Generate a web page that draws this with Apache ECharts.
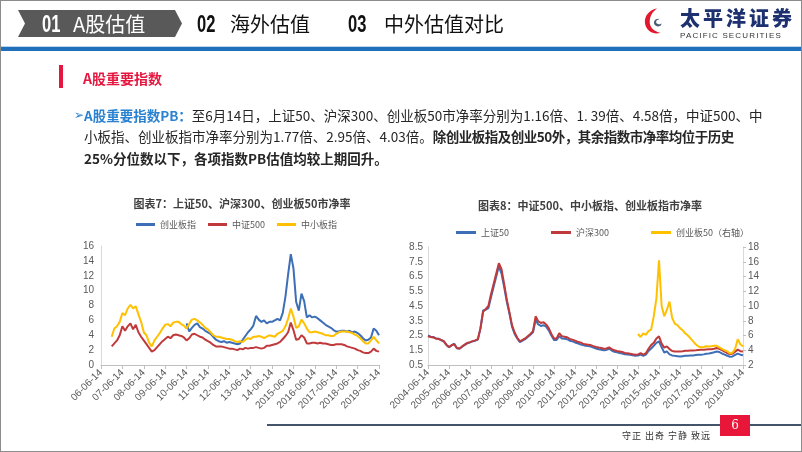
<!DOCTYPE html>
<html>
<head>
<meta charset="utf-8">
<script src="https://cdn.jsdelivr.net/npm/echarts@6/dist/echarts.min.js"></script>
<style>
  html, body { margin: 0; padding: 0; background: #fff; }
  #slide { position: relative; width: 802px; height: 452px; overflow: hidden; background: #fff;
    font-family: "Noto Sans CJK SC", sans-serif; }
  #main { position: absolute; left: 0; top: 0; width: 802px; height: 452px; }
  .abs { position: absolute; white-space: nowrap; }
  #frame { position: absolute; left: 0; top: 0; width: 802px; height: 452px; box-sizing: border-box;
    border: 1px solid #8c8c8c; pointer-events: none; }
  .tab { position: absolute; left: 18px; top: 10px; width: 164px; height: 27px; background: #595959;
    clip-path: polygon(0 0, 157px 0, 164px 13.5px, 157px 27px, 0 27px, 7px 13.5px); }
  .num { font-family: "Liberation Sans", sans-serif; font-weight: bold;
    font-size: 23px; line-height: 24px; top: 12px; transform: scaleX(0.72); transform-origin: 0 50%; }
  .sec { font-size: 20px; line-height: 24px; top: 12px; }
  .para { left: 84px; font-size: 13.5px; line-height: 20px; color: #262626; }
  .para b { font-weight: bold; }
</style>
</head>
<body>
<div id="slide">
  <div id="main"></div>

  <!-- header -->
  <div class="tab"></div>
  <span class="abs num" style="left:42px;color:#fff">01</span>
  <span class="abs sec" style="left:73px;color:#fff">A股估值</span>
  <span class="abs num" style="left:197px;color:#111">02</span>
  <span class="abs sec" style="left:230px;color:#111">海外估值</span>
  <span class="abs num" style="left:348px;color:#111">03</span>
  <span class="abs sec" style="left:384px;color:#111">中外估值对比</span>

  <svg class="abs" style="left:642px;top:6px" width="24" height="30" viewBox="0 0 22 28">
    <path d="M14 2 C5 4 1 11 3 18 C5 24 11 27 17 25 C11 24 7 20 7 15 C7 9 10 5 14 2 Z" fill="#e3172d"/>
    <path d="M15 12 C11 12 10 16 12 18 C14 20 18 19 18 16 C16 18 13 17 13 15 C13 13 15 12 17 13 Z" fill="#4a5a78"/>
  </svg>
  <span class="abs" style="left:680px;top:6px;font-size:20px;line-height:24px;font-weight:900;color:#1d3170;letter-spacing:3px">太平洋证券</span>
  <span class="abs" style="left:680px;top:31px;font-family:'Liberation Sans',sans-serif;font-size:8px;line-height:10px;color:#333;letter-spacing:1.15px">PACIFIC SECURITIES</span>

  <div class="abs" style="left:0;top:46px;width:802px;height:1px;background:#bcd4ec"></div>
  <div class="abs" style="left:0;top:47px;width:802px;height:4px;background:#1f6fba"></div>

  <!-- section heading -->
  <div class="abs" style="left:59px;top:65px;width:4px;height:23px;background:#e5173f"></div>
  <span class="abs" style="left:83px;top:69px;font-size:14px;line-height:18px;font-weight:bold;color:#e5173f">A股重要指数</span>

  <!-- paragraph -->
  <span class="abs" style="left:74px;top:105px;font-family:'DejaVu Sans',sans-serif;font-size:12px;line-height:20px;color:#2a82d0">➢</span>
  <span class="abs para" style="top:105px"><b style="color:#2a82d0">A股重要指数PB：</b>至6月14日，上证50、沪深300、创业板50市净率分别为1.16倍、1. 39倍、4.58倍，中证500、中</span>
  <span class="abs para" style="top:126px">小板指、创业板指市净率分别为1.77倍、2.95倍、4.03倍。<b style="letter-spacing:-0.5px">除创业板指及创业50外，其余指数市净率均位于历史</b></span>
  <span class="abs para" style="top:148px"><b>25%分位数以下，各项指数PB估值均较上期回升。</b></span>

  <!-- footer -->
  <div class="abs" style="left:267px;top:424px;width:535px;height:2px;background:#44546a"></div>
  <div class="abs" style="left:720px;top:415px;width:30px;height:21px;background:#e8173a;color:#fff;font-family:'DejaVu Serif',serif;font-size:12px;line-height:21px;text-align:center">6</div>
  <span class="abs" style="left:622px;top:430px;font-size:9px;line-height:12px;color:#333;letter-spacing:1px">守正 出奇 宁静 致远</span>

  <div id="frame"></div>
</div>

<script>
// dates are decimal years counted from 06-14 of each year
var leftDates = [];
for (var i = 0; i <= 100; i++) leftDates.push(2006.5 + i / 8);
var rightDates = [];
for (var j = 0; j <= 120; j++) rightDates.push(2004 + j / 8);

// 图表7
var cybIdx = [ // 创业板指, from 2010.0
  5.6, 4.5, 5.0, 5.4, 5.6, 5.1, 4.9, 4.6, 4.4, 4.2,
  3.8, 3.4, 3.2, 3.1, 3.2, 3.0, 3.1, 3.0, 2.9, 2.8,
  2.9, 3.4, 3.9, 4.4, 4.8, 5.3, 6.6, 6.1, 5.8, 6.0,
  5.6, 5.8, 5.8, 6.0, 6.2, 6.0, 7.0, 9.2, 12.2, 14.9,
  13.0, 8.5, 7.3, 9.6, 8.6, 6.4, 6.7, 6.4, 6.5, 6.3,
  6.0, 5.7, 5.4, 5.2, 5.0, 4.7, 4.5, 4.5, 4.6, 4.6,
  4.5, 4.6, 4.4, 4.5, 4.3, 4.0, 3.6, 3.3, 3.4, 3.7,
  4.9, 4.6, 4.0
];
var zz500 = [
  2.5, 2.9, 3.3, 4.0, 5.2, 4.6, 5.2, 5.6, 4.8, 5.4,
  4.4, 3.8, 3.3, 2.8, 2.3, 1.8, 2.0, 2.4, 2.8, 3.2,
  3.5, 3.8, 3.6, 4.0, 4.1, 4.0, 3.9, 3.7, 3.3, 3.6,
  4.1, 4.2, 4.0, 3.8, 3.7, 3.4, 3.2, 3.0, 2.7, 2.5,
  2.5, 2.5, 2.4, 2.3, 2.2, 2.2, 2.1, 2.0, 2.2, 2.1,
  2.3, 2.2, 2.3, 2.3, 2.4, 2.3, 2.2, 2.3, 2.6, 2.6,
  2.7, 2.8, 2.9, 3.1, 3.5, 3.9, 4.4, 5.7, 4.7, 3.4,
  3.5, 4.0, 3.7, 2.9, 2.9, 3.0, 3.0, 2.9, 3.0, 2.9,
  2.9, 2.8, 2.7, 2.7, 2.8, 2.8, 2.8, 2.7, 2.5, 2.4,
  2.3, 2.2, 2.0, 1.9, 1.7, 1.6, 1.6, 1.8, 2.2, 1.9,
  1.8
];
var zxbIdx = [
  3.8, 4.9, 5.2, 5.8, 7.0, 6.7, 7.6, 8.1, 7.6, 7.9,
  6.8, 5.8, 4.4, 4.0, 3.0, 2.5, 3.3, 3.8, 4.3, 4.9,
  5.4, 5.5, 5.2, 5.7, 5.8, 5.8, 5.5, 5.3, 4.9, 5.5,
  6.1, 6.2, 6.0, 5.7, 5.4, 5.0, 4.8, 4.4, 4.0, 3.8,
  3.8, 3.7, 3.6, 3.5, 3.5, 3.4, 3.2, 3.1, 3.2, 3.1,
  3.4, 3.6, 3.5, 3.8, 3.8, 3.9, 3.8, 3.6, 3.8, 4.0,
  3.9, 3.8, 4.2, 4.4, 4.6, 5.2, 6.2, 7.6, 6.5, 5.0,
  5.2, 6.1, 5.6, 4.9, 4.4, 4.4, 4.5, 4.4, 4.3, 4.2,
  4.0, 4.0, 3.9, 3.9, 4.2, 4.4, 4.5, 4.5, 4.5, 4.4,
  4.3, 4.1, 3.9, 3.6, 3.2, 2.9, 2.9, 3.3, 3.8, 3.3,
  2.9
];

// 图表8
var sz50 = [
  2.5, 2.42, 2.4, 2.3, 2.28, 2.18, 2.1, 1.86, 1.7, 1.82,
  1.95, 1.63, 1.6, 1.74, 1.86, 1.98, 2.03, 2.1, 2.15, 2.22,
  3.0, 4.2, 4.25, 4.35, 5.1, 5.8, 6.5, 7.2, 6.7, 5.8,
  4.8, 4.0, 3.1, 2.6, 2.3, 2.05, 2.15, 2.25, 2.4, 2.55,
  2.72, 3.55, 3.25, 3.15, 3.2, 3.1, 2.85, 2.5, 2.2, 2.2,
  2.45, 2.3, 2.28, 2.25, 2.15, 2.1, 2.03, 1.97, 1.9, 1.85,
  1.8, 1.78, 1.75, 1.68, 1.62, 1.57, 1.54, 1.5, 1.52, 1.6,
  1.48, 1.4, 1.36, 1.32, 1.28, 1.23, 1.21, 1.2, 1.16, 1.13,
  1.14, 1.2, 1.12, 1.2, 1.45, 1.62, 1.8, 2.0, 2.1, 1.7,
  1.35, 1.42, 1.22, 1.15, 1.12, 1.1, 1.08, 1.1, 1.12, 1.13,
  1.14, 1.15, 1.17, 1.19, 1.2, 1.22, 1.26, 1.28, 1.32, 1.36,
  1.42, 1.38, 1.28, 1.2, 1.13, 1.05, 1.08, 1.18, 1.27, 1.2,
  1.16
];
var hs300 = [
  2.45, 2.4, 2.37, 2.3, 2.26, 2.2, 2.12, 1.88, 1.72, 1.85,
  1.9, 1.65, 1.62, 1.76, 1.88, 2.0, 2.05, 2.12, 2.17, 2.26,
  3.0, 4.1, 4.3, 4.5, 5.3, 6.0, 6.7, 7.4, 7.0, 6.0,
  4.95, 4.1, 3.2, 2.7, 2.35, 2.1, 2.2, 2.3, 2.45, 2.6,
  2.8, 3.8, 3.45, 3.35, 3.4, 3.25, 3.0, 2.6, 2.3, 2.3,
  2.65, 2.45, 2.42, 2.38, 2.27, 2.22, 2.15, 2.08, 2.03, 1.95,
  1.9, 1.88, 1.85, 1.78, 1.72, 1.68, 1.65, 1.6, 1.62, 1.7,
  1.58, 1.5, 1.45, 1.42, 1.38, 1.32, 1.3, 1.27, 1.23, 1.2,
  1.22, 1.3, 1.2, 1.3, 1.6, 1.85, 2.0, 2.3, 2.44, 1.95,
  1.68, 1.76, 1.58, 1.45, 1.42, 1.42, 1.42, 1.43, 1.46, 1.47,
  1.48, 1.49, 1.5, 1.52, 1.54, 1.54, 1.55, 1.56, 1.57, 1.6,
  1.65, 1.6, 1.5, 1.4, 1.31, 1.22, 1.27, 1.4, 1.54, 1.44,
  1.42
];
var cyb50 = [ // 创业板50, from 2014.0, right axis
  6.2, 5.8, 6.3, 6.1, 6.6, 6.8, 8.6, 11.0, 16.2, 10.0,
  8.6, 9.5, 10.6, 8.4, 7.6, 7.4, 7.0, 6.7, 6.3, 6.0,
  5.6, 5.2, 4.8, 4.5, 4.4, 4.45, 4.55, 4.5, 4.55, 4.6,
  4.6, 4.4, 4.2, 4.0, 3.85, 3.55, 3.65, 4.2, 5.5, 4.8,
  4.5
];

var BLUE = '#3d6fb6';
var RED = '#c0393b';
var GOLD = '#ffc000';

function pairs (dates, vals) {
  return vals.map(function (v, i) { return [dates[i], v]; });
}

var chart = echarts.init(document.getElementById('main'), null, { renderer: 'canvas' });

var labelStyle = { fontSize: 10, color: '#595959', fontFamily: 'Liberation Sans, Noto Sans CJK SC' };
var titleStyle = { fontSize: 11, fontWeight: 'bold', color: '#404040', fontFamily: 'Noto Sans CJK SC' };
var legendText = { fontSize: 9, color: '#595959', fontFamily: 'Noto Sans CJK SC' };

function lineSeries (name, xi, yi, data, color) {
  return {
    name: name, type: 'line', xAxisIndex: xi, yAxisIndex: yi, data: data,
    showSymbol: false, symbol: 'none',
    lineStyle: { width: 2, color: color }, itemStyle: { color: color }
  };
}

var option = {
  animation: false,
  title: [
    { text: '图表7：上证50、沪深300、创业板50市净率', left: 237, top: 193, textAlign: 'center', textStyle: titleStyle },
    { text: '图表8：中证500、中小板指、创业板指市净率', left: 585, top: 195, textAlign: 'center', textStyle: titleStyle }
  ],
  legend: [
    { data: ['创业板指', '中证500', '中小板指'], left: 131, top: 215, icon: 'rect',
      itemWidth: 19, itemHeight: 3, itemGap: 12, textStyle: legendText },
    { data: ['上证50', '沪深300', '创业板50（右轴）'], left: 451, top: 223, icon: 'rect',
      itemWidth: 20, itemHeight: 3, itemGap: 42, textStyle: legendText }
  ],
  grid: [
    { left: 101, top: 246, width: 278, height: 119 },
    { left: 428, top: 247, width: 315, height: 118 }
  ],
  xAxis: [
    { gridIndex: 0, type: 'value', min: 2006, max: 2019, interval: 1,
      axisLine: { lineStyle: { color: '#bfbfbf' } },
      axisTick: { show: true, length: 4, lineStyle: { color: '#bfbfbf' } },
      splitLine: { show: false },
      axisLabel: Object.assign({ rotate: 45, margin: 6, formatter: function (v) {
        return (v < 2015 ? String(v).slice(2) : String(v)) + '-06-14';
      } }, labelStyle) },
    { gridIndex: 1, type: 'value', min: 2004, max: 2019, interval: 1,
      axisLine: { lineStyle: { color: '#bfbfbf' } },
      axisTick: { show: true, length: 4, lineStyle: { color: '#bfbfbf' } },
      splitLine: { show: false },
      axisLabel: Object.assign({ rotate: 45, margin: 6, formatter: function (v) {
        return v + '-06-14';
      } }, labelStyle) }
  ],
  yAxis: [
    { gridIndex: 0, type: 'value', min: 0, max: 16, interval: 2,
      axisLine: { show: true, lineStyle: { color: '#d9d9d9' } }, axisTick: { show: false },
      splitLine: { show: false }, axisLabel: Object.assign({ margin: 7 }, labelStyle) },
    { gridIndex: 1, type: 'value', min: 0.5, max: 8.5, interval: 1,
      axisLine: { show: true, lineStyle: { color: '#d9d9d9' } }, axisTick: { show: false },
      splitLine: { show: false },
      axisLabel: Object.assign({ margin: 5, formatter: function (v) { return v.toFixed(1); } }, labelStyle) },
    { gridIndex: 1, type: 'value', position: 'right', min: 2, max: 18, interval: 2,
      axisLine: { show: true, lineStyle: { color: '#d9d9d9' } },
      axisTick: { show: true, length: 3, lineStyle: { color: '#bfbfbf' } },
      splitLine: { show: false }, axisLabel: Object.assign({ margin: 5 }, labelStyle) }
  ],
  series: [
    lineSeries('创业板指', 0, 0, pairs(leftDates.slice(28), cybIdx), BLUE),
    lineSeries('中证500', 0, 0, pairs(leftDates, zz500), RED),
    lineSeries('中小板指', 0, 0, pairs(leftDates, zxbIdx), GOLD),
    lineSeries('上证50', 1, 1, pairs(rightDates, sz50), BLUE),
    lineSeries('沪深300', 1, 1, pairs(rightDates, hs300), RED),
    lineSeries('创业板50（右轴）', 1, 2, pairs(rightDates.slice(80), cyb50), GOLD)
  ]
};

chart.setOption(option);
</script>
</body>
</html>
